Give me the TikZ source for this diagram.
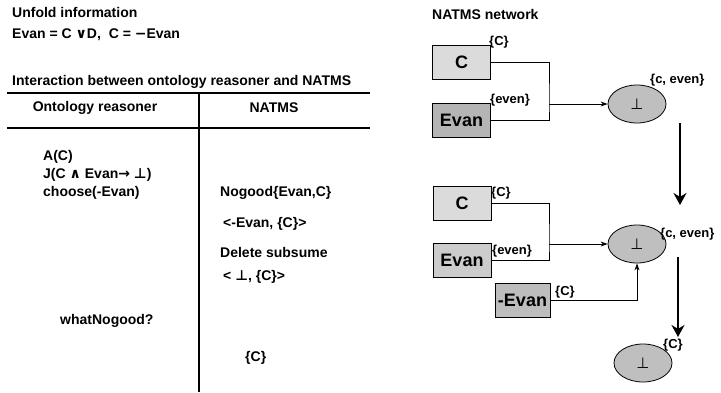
\documentclass[tikz,border=0pt]{standalone}
\usepackage{fontspec}
\setmainfont{Liberation Sans}
\newfontfamily\symfont{DejaVu Sans}
\usetikzlibrary{arrows.meta,shapes.geometric}

\begin{document}
\begin{tikzpicture}[x=1pt,y=-1pt,
  txt/.style={anchor=west,inner sep=0pt,font=\fontsize{14}{16}\selectfont\bfseries},
  lbl/.style={anchor=west,inner sep=0pt,font=\fontsize{13}{15}\selectfont\bfseries},
  atom/.style={draw,line width=0.8pt,minimum width=58pt,minimum height=34pt,inner sep=0pt,font=\fontsize{18}{20}\selectfont\bfseries},
  nogood/.style={ellipse,draw,line width=0.8pt,fill=gray!50,minimum width=58pt,minimum height=38pt,inner sep=0pt,font=\fontsize{15}{17}\selectfont\symfont},
  link/.style={line width=0.8pt},
  flow/.style={line width=2.6pt,-{Stealth[length=12pt,width=13pt]}}]
\useasboundingbox (0,0) rectangle (721,392);

% unfolded information and the table
\node[txt] (unfold) at (12,12) {Unfold information};
\node[txt] (eqs) at (12,35) {Evan = C {\symfont ∨}D,\ \ C = {\symfont −}Evan};
\node[txt] (inter) at (12,82) {Interaction between ontology reasoner and NATMS};
\draw[line width=2.2pt] (7,93) -- (370,93);
\draw[line width=1.6pt] (7,128) -- (370,128);
\draw[line width=1.3pt] (199,93) -- (199,392);
\node[txt,anchor=center] (hreas) at (95,108) {Ontology reasoner};
\node[txt,anchor=center] (hnatms) at (274,108) {NATMS};

\node[txt] (assume) at (43,157) {A(C)};
\node[txt] (justif) at (43,175) {J(C {\symfont ∧} Evan{\symfont →} {\symfont ⊥})};
\node[txt] (choose) at (43,193) {choose(-Evan)};
\node[txt] (whatng) at (60,321) {whatNogood?};

\node[txt] (nogood) at (220,193) {Nogood\{Evan,C\}};
\node[txt] (negev) at (223,224) {<-Evan, \{C\}>};
\node[txt] (delsub) at (220,252) {Delete subsume};
\node[txt] (botc) at (223,277) {< {\symfont ⊥}, \{C\}>};
\node[txt] (answer) at (245,358) {\{C\}};

% NATMS network
\node[txt] (net) at (432,14) {NATMS network};

\node[atom,fill=gray!28] (c1) at (461.5,62.5) {C};
\node[atom,fill=gray!58] (evan1) at (461.5,120.5) {Evan};
\node[lbl] (c1l) at (489,42) {\{C\}};
\node[lbl] (evan1l) at (490,100) {\{even\}};
\node[nogood] (e1) at (637,104) {⊥};
\node[lbl] (e1l) at (650,80) {\{c, even\}};
\coordinate (j1) at (549,104);
\draw[link] (c1.east) -| (j1) |- (evan1.east);
\draw[link,-{Stealth[length=7pt,width=5pt]}] (j1) -- (e1);

\coordinate (a1s) at (680,123);
\coordinate (a1e) at (680,205);
\draw[flow] (a1s) -- (a1e);

\node[atom,fill=gray!28] (c2) at (462,203.5) {C};
\node[atom,fill=gray!40] (evan2) at (462,260.5) {Evan};
\node[atom,fill=gray!52,minimum width=55pt] (nevan) at (522.5,300) {-Evan};
\node[lbl] (c2l) at (491,193) {\{C\}};
\node[lbl] (evan2l) at (492,251) {\{even\}};
\node[lbl] (nevanl) at (555,292) {\{C\}};
\node[nogood] (e2) at (637,244) {⊥};
\node[lbl] (e2l) at (660,234) {\{c, even\}};
\coordinate (j2) at (549,244);
\draw[link] (c2.east) -| (j2) |- (evan2.east);
\draw[link,-{Stealth[length=7pt,width=5pt]}] (j2) -- (e2);
\draw[link,-{Stealth[length=7pt,width=5pt]}] (nevan.east) -| (e2.south);

\coordinate (a2s) at (678,257);
\coordinate (a2e) at (678,337);
\draw[flow] (a2s) -- (a2e);

\node[nogood] (e3) at (643,363) {⊥};
\node[lbl] (e3l) at (663,345) {\{C\}};
\end{tikzpicture}
\end{document}
